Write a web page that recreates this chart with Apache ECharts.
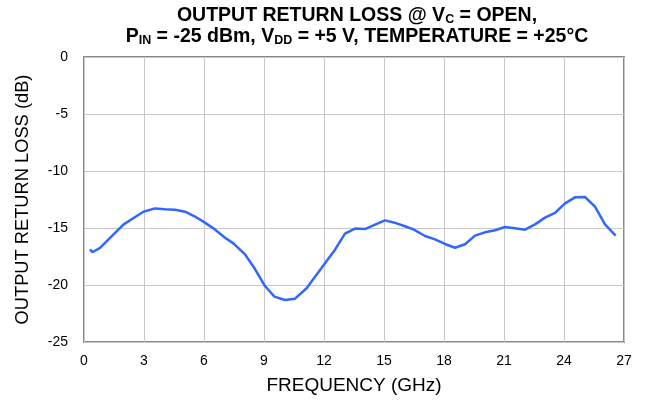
<!DOCTYPE html>
<html>
<head>
<meta charset="utf-8">
<script src="https://cdn.jsdelivr.net/npm/echarts@6/dist/echarts.min.js"></script>
<style>html,body{margin:0;padding:0;background:#fff}#c{width:651px;height:406px}</style>
</head>
<body>
<div id="c"></div>
<script>
var freqGHz = [0.3,0.42,0.8,1.4,1.97,2.5,2.97,3.55,4.05,4.55,5.05,5.5,5.97,6.47,7.05,7.47,8.05,8.55,9.05,9.52,10.05,10.55,11.13,11.55,12.05,12.55,13.05,13.55,14.05,14.55,15.05,15.63,16.05,16.47,17.05,17.55,18.05,18.55,19.05,19.55,20.05,20.55,21.05,21.55,22.05,22.55,23.05,23.55,24.05,24.55,25.05,25.55,26.05,26.58];
var returnLossDb = [-16.87,-17.13,-16.75,-15.7,-14.7,-14.1,-13.57,-13.28,-13.35,-13.4,-13.57,-13.95,-14.44,-15.03,-15.85,-16.35,-17.31,-18.6,-20.09,-21.02,-21.32,-21.2,-20.29,-19.27,-18.1,-16.9,-15.5,-15.05,-15.09,-14.7,-14.33,-14.59,-14.85,-15.12,-15.7,-16.0,-16.4,-16.73,-16.43,-15.67,-15.38,-15.2,-14.91,-15.02,-15.15,-14.68,-14.09,-13.68,-12.84,-12.31,-12.28,-13.13,-14.68,-15.67];
var xTicks = [0,3,6,9,12,15,18,21,24,27];
var yTicks = [0,-5,-10,-15,-20,-25];

var chart = echarts.init(document.getElementById('c'));
var font = 'Liberation Sans, Arial, sans-serif';
chart.setOption({
  animation: false,
  title: {
    left: 352, top: 0, textAlign: 'center',
    text: 'OUTPUT RETURN LOSS @ V{sub|C} = OPEN,\nP{sub|IN} = -25 dBm, V{sub|DD} = +5 V, TEMPERATURE = +25°C',
    textStyle: {
      fontFamily: font, fontSize: 19.5, fontWeight: 'bold', color: '#000', lineHeight: 21,
      rich: { sub: { fontFamily: font, fontSize: 12.5, fontWeight: 'bold', color: '#000', verticalAlign: 'bottom', lineHeight: 21, padding: [7,0,0,0] } }
    }
  },
  grid: { left: 84, right: 27, top: 57, bottom: 64, containLabel: false, show: true, borderColor: '#888', borderWidth: 2 },
  xAxis: {
    type: 'value', min: 0, max: 27, interval: 3,
    name: 'FREQUENCY (GHz)', nameLocation: 'middle', nameGap: 34,
    nameTextStyle: { fontFamily: font, fontSize: 19, color: '#000' },
    axisLine: { show: false }, axisTick: { show: false },
    axisLabel: { fontFamily: font, fontSize: 14, color: '#000', margin: 12 },
    splitLine: { show: true, lineStyle: { color: '#c8c8c8', width: 1 } }
  },
  yAxis: {
    type: 'value', min: -25, max: 0, interval: 5,
    name: 'OUTPUT RETURN LOSS (dB)', nameLocation: 'middle', nameGap: 52,
    nameTextStyle: { fontFamily: font, fontSize: 18.3, color: '#000' },
    axisLine: { show: false }, axisTick: { show: false },
    axisLabel: { fontFamily: font, fontSize: 14, color: '#000', margin: 16 },
    splitLine: { show: true, lineStyle: { color: '#c8c8c8', width: 1 } }
  },
  series: [{
    type: 'line', showSymbol: false, smooth: false,
    data: freqGHz.map(function (f, i) { return [f, returnLossDb[i]]; }),
    lineStyle: { color: '#3366ff', width: 2.5 }
  }]
});
</script>
</body>
</html>
